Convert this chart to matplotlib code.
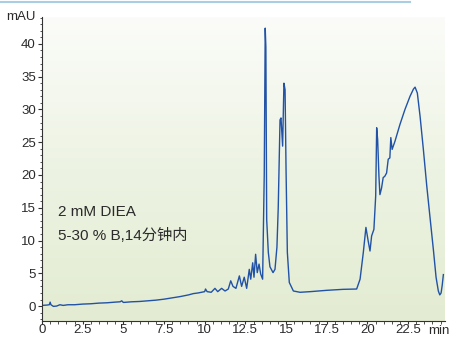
import numpy as np
import matplotlib
matplotlib.use("Agg")
import matplotlib.pyplot as plt
from matplotlib.colors import LinearSegmentedColormap
from matplotlib.lines import Line2D
from matplotlib.ticker import MultipleLocator

# chromatogram trace (time in min, absorbance in mAU)
time_min = [0.0, 0.3, 0.45, 0.5, 0.55, 0.7, 0.9, 1.1, 1.3, 1.6, 2.0, 2.5, 3.0, 3.5,
            4.0, 4.5, 4.8, 4.9, 5.0, 5.5, 6.0, 6.5, 7.0, 7.5, 8.0, 8.5, 9.0, 9.3,
            9.6, 9.8, 10.0, 10.05, 10.15, 10.4, 10.63, 10.8, 11.04, 11.25, 11.45,
            11.6, 11.74, 11.92, 12.13, 12.27, 12.43, 12.58, 12.74, 12.83, 12.95,
            13.03, 13.13, 13.23, 13.34, 13.44, 13.56, 13.66, 13.72, 13.76, 13.81,
            13.91, 14.01, 14.2, 14.32, 14.44, 14.52, 14.63, 14.69, 14.79, 14.87,
            14.94, 15.0, 15.08, 15.2, 15.45, 15.86, 16.5, 17.5, 18.5, 19.34,
            19.55, 19.75, 19.91, 20.05, 20.16, 20.26, 20.4, 20.51, 20.57, 20.63,
            20.71, 20.77, 20.87, 20.97, 21.07, 21.18, 21.28, 21.38, 21.44, 21.52,
            21.69, 22.0, 22.31, 22.62, 22.83, 22.93, 23.07, 23.24, 23.44, 23.65,
            23.85, 24.06, 24.22, 24.36, 24.45, 24.53, 24.6, 24.67]
absorbance = [0.1, 0.15, 0.2, 0.6, 0.2, -0.05, 0.0, 0.2, 0.1, 0.2, 0.2, 0.3, 0.35, 0.45,
              0.5, 0.6, 0.65, 0.8, 0.55, 0.65, 0.7, 0.8, 0.9, 1.05, 1.25, 1.45, 1.7, 1.9,
              2.0, 2.1, 2.2, 2.6, 2.2, 2.1, 2.7, 2.2, 2.7, 2.3, 2.6,
              3.85, 3.0, 2.7, 4.6, 3.0, 4.4, 2.7, 5.6, 4.1, 6.6,
              4.4, 7.9, 5.1, 6.4, 4.9, 4.1, 20.0, 42.4, 39.5, 13.2,
              8.2, 6.0, 5.1, 5.6, 9.0, 15.0, 28.4, 28.7, 24.4, 34.0,
              33.0, 20.8, 8.2, 3.6, 2.3, 2.1, 2.2, 2.4, 2.55, 2.6,
              4.1, 8.2, 12.0, 9.9, 8.4, 10.7, 11.7, 16.8, 27.2, 25.4,
              19.8, 17.0, 18.0, 19.6, 19.8, 20.3, 22.4, 22.6, 25.7, 23.9,
              25.1, 27.7, 30.0, 32.0, 33.1, 33.4, 32.5, 28.9, 23.9, 18.3,
              13.5, 8.5, 4.4, 2.3, 1.7, 2.0, 3.2, 4.8]

x_ticks = [0, 2.5, 5, 7.5, 10, 12.5, 15, 17.5, 20, 22.5]
x_tick_labels = ["0", "2.5", "5", "7.5", "10", "12.5", "15", "17.5", "20", "22.5"]
y_ticks = [0, 5, 10, 15, 20, 25, 30, 35, 40]

note_lines = ["2 mM DIEA", "5-30 % B,14分钟内"]

plt.rcParams["font.family"] = ["Liberation Sans", "Noto Sans CJK SC"]

fig = plt.figure(figsize=(4.55, 3.37), dpi=100)
ax = fig.add_axes([42 / 455, 1 - 321 / 337, (445 - 42) / 455, (321 - 17) / 337])

# pale green gradient behind the trace
grad_cmap = LinearSegmentedColormap.from_list("bg", ["#e3ecd2", "#edf3e3", "#fbfcf9"])
grad = np.linspace(0, 1, 256).reshape(-1, 1)
ax.imshow(grad, cmap=grad_cmap, aspect="auto", origin="lower",
          extent=[0, 1, 0, 1], transform=ax.transAxes, zorder=0)

ax.plot(time_min, absorbance, color="#2152a6", lw=1.0, zorder=2)

ax.set_xlim(0, 24.77)
ax.set_ylim(-2.28, 44.1)
ax.set_xticks(x_ticks)
ax.set_xticklabels(x_tick_labels)
ax.set_yticks(y_ticks)
ax.xaxis.set_minor_locator(MultipleLocator(0.5))
ax.yaxis.set_minor_locator(MultipleLocator(1))

for side in ["top", "right"]:
    ax.spines[side].set_visible(False)
for side in ["left", "bottom"]:
    ax.spines[side].set_color("#333333")
    ax.spines[side].set_linewidth(0.8)

ax.tick_params(which="major", length=3, width=0.8, color="#333333",
               labelsize=9.5, labelcolor="#2a2a2a", pad=1.5)
ax.tick_params(which="minor", length=1.8, width=0.6, color="#333333")
ax.tick_params(axis="x", which="major", length=2, pad=0.5)

ax.text(-0.015, 1.0, "mAU", transform=ax.transAxes, ha="right", va="center",
        fontsize=9.5, color="#2a2a2a")
ax.annotate("min", xy=(0.985, 0), xycoords="axes fraction",
            xytext=(0, -3), textcoords="offset points",
            ha="center", va="top", fontsize=9.5, color="#2a2a2a")

ax.text(1.0, 14.3, note_lines[0], ha="left", va="center", fontsize=11, color="#2a2a2a")
ax.text(1.0, 10.8, note_lines[1], ha="left", va="center", fontsize=11, color="#2a2a2a")

# light blue rule at the top of the page
fig.add_artist(Line2D([0, 410 / 455], [1 - 1.5 / 337, 1 - 1.5 / 337],
                      transform=fig.transFigure, color="#a9cde2", lw=1.5))

fig.savefig("out.png", dpi=100)
